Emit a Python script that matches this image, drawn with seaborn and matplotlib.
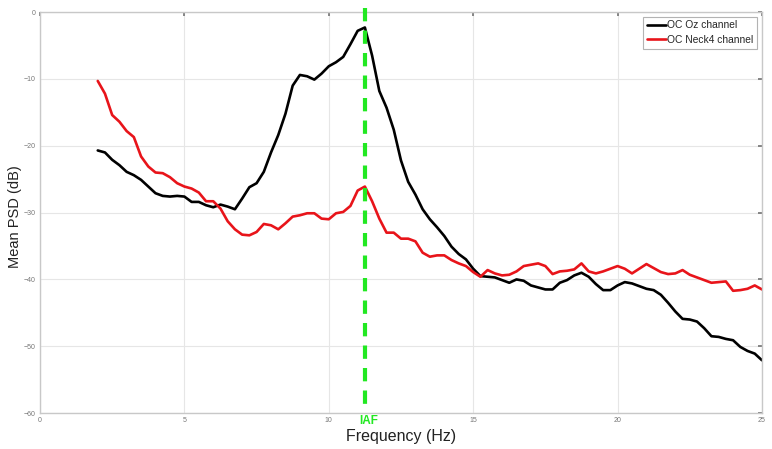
import numpy as np
import pandas as pd
import matplotlib
matplotlib.use("Agg")
import matplotlib.pyplot as plt
import seaborn as sns

freq = [2.00, 2.25, 2.50, 2.75, 3.00, 3.25, 3.50, 3.75, 4.00, 4.25, 4.50, 4.75,
        5.00, 5.25, 5.50, 5.75, 6.00, 6.25, 6.50, 6.75, 7.00, 7.25, 7.50, 7.75,
        8.00, 8.25, 8.50, 8.75, 9.00, 9.25, 9.50, 9.75, 10.00, 10.25, 10.50, 10.75,
        11.00, 11.25, 11.50, 11.75, 12.00, 12.25, 12.50, 12.75, 13.00, 13.25, 13.50, 13.75,
        14.00, 14.25, 14.50, 14.75, 15.00, 15.25, 15.50, 15.75, 16.00, 16.25, 16.50, 16.75,
        17.00, 17.25, 17.50, 17.75, 18.00, 18.25, 18.50, 18.75, 19.00, 19.25, 19.50, 19.75,
        20.00, 20.25, 20.50, 20.75, 21.00, 21.25, 21.50, 21.75, 22.00, 22.25, 22.50, 22.75,
        23.00, 23.25, 23.50, 23.75, 24.00, 24.25, 24.50, 24.75, 25.00]

oz = [-20.7, -21.0, -22.1, -22.9, -23.9, -24.4, -25.1, -26.1, -27.1, -27.5, -27.6, -27.5,
      -27.6, -28.4, -28.4, -28.9, -29.2, -28.8, -29.1, -29.5, -27.9, -26.2, -25.6, -23.9,
      -21.0, -18.4, -15.2, -11.0, -9.4, -9.6, -10.1, -9.2, -8.1, -7.5, -6.7, -4.8,
      -2.8, -2.3, -6.5, -11.8, -14.3, -17.6, -22.2, -25.4, -27.3, -29.5, -31.0, -32.2,
      -33.5, -35.1, -36.2, -37.0, -38.4, -39.5, -39.6, -39.7, -40.1, -40.5, -40.0, -40.2,
      -40.9, -41.2, -41.5, -41.5, -40.5, -40.1, -39.4, -39.0, -39.6, -40.7, -41.6, -41.6,
      -40.9, -40.4, -40.6, -41.0, -41.4, -41.6, -42.3, -43.5, -44.8, -45.9, -46.0, -46.3,
      -47.3, -48.5, -48.6, -48.9, -49.1, -50.1, -50.7, -51.1, -52.1]

neck4 = [-10.3, -12.2, -15.4, -16.4, -17.8, -18.7, -21.6, -23.1, -24.0, -24.1, -24.7, -25.6,
         -26.1, -26.4, -27.0, -28.3, -28.3, -29.4, -31.3, -32.5, -33.3, -33.4, -32.9, -31.7,
         -31.9, -32.5, -31.6, -30.6, -30.4, -30.1, -30.1, -30.9, -31.0, -30.1, -29.9, -29.0,
         -26.7, -26.1, -28.3, -30.9, -33.0, -33.0, -33.9, -33.9, -34.3, -36.0, -36.6, -36.4,
         -36.4, -37.1, -37.6, -38.0, -38.9, -39.6, -38.6, -39.1, -39.4, -39.3, -38.8, -38.0,
         -37.8, -37.6, -38.0, -39.2, -38.8, -38.7, -38.5, -37.6, -38.8, -39.1, -38.8, -38.4,
         -38.0, -38.4, -39.1, -38.4, -37.7, -38.3, -38.9, -39.2, -39.1, -38.6, -39.3, -39.7,
         -40.1, -40.5, -40.4, -40.3, -41.7, -41.6, -41.4, -40.9, -41.5]

series_names = ["OC Oz channel", "OC Neck4 channel"]
iaf = 11.27
x_ticks = [0, 5, 10, 15, 20, 25]
y_ticks = [0, -10, -20, -30, -40, -50, -60]

df = pd.DataFrame({
    "Frequency": freq * 2,
    "PSD": oz + neck4,
    "Channel": [series_names[0]] * len(freq) + [series_names[1]] * len(freq),
})

sns.set_theme(style="whitegrid")
plt.rcParams["font.family"] = ["Liberation Sans", "DejaVu Sans"]

fig = plt.figure(figsize=(7.72, 4.49), dpi=100)
ax = fig.add_axes([0.0518, 0.080, 0.9352, 0.893])

sns.lineplot(data=df, x="Frequency", y="PSD", hue="Channel", ax=ax,
             palette={series_names[0]: "black", series_names[1]: "#e8141a"},
             linewidth=1.9, legend=True)

# IAF marker line, drawn from the top down so the dash pattern starts at the top
ax.plot([iaf, iaf], [1.01, 0.0], transform=ax.get_xaxis_transform(),
        color="#22e822", linewidth=3.0, linestyle=(0, (3.2, 2.2)),
        clip_on=False, zorder=5)

ax.set_xlim(0, 25)
ax.set_ylim(-60, 0)
ax.set_xticks(x_ticks)
ax.set_yticks(y_ticks)
ax.tick_params(axis="both", which="both", labelsize=5, colors="#777777",
               direction="in", length=3, top=True, right=True, pad=3)
ax.grid(True, color="#e6e6e6", linewidth=0.8)
for s in ax.spines.values():
    s.set_color("#c8c8c8")
    s.set_linewidth(1.0)

ax.set_xlabel("Frequency (Hz)", fontsize=11.5, color="#222222")
ax.set_ylabel("Mean PSD (dB)", fontsize=10.5, color="#222222")
ax.xaxis.set_label_coords(0.5, -0.0698, transform=ax.transAxes)
ax.xaxis.label.set_va("baseline")
ax.yaxis.set_label_coords(-0.034, 0.49, transform=ax.transAxes)
ax.yaxis.label.set_va("center")

ax.text(iaf + 0.12, -61.69, "IAF", color="#22e822", fontsize=8.5, fontweight="bold",
        ha="center", va="baseline")

leg = ax.legend(loc="upper right", fontsize=7.4, frameon=True, fancybox=False,
                handlelength=1.9, handletextpad=0.1, borderpad=0.35,
                labelspacing=0.45, borderaxespad=0.45)
leg.get_frame().set_edgecolor("#a0a0a0")
leg.get_frame().set_linewidth(0.8)

fig.savefig("out.png", dpi=100)
